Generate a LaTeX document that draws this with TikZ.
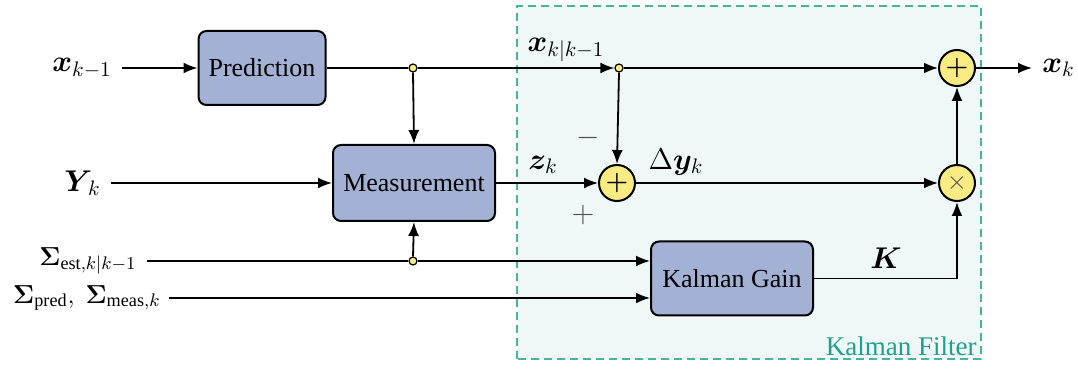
\RequirePackage{fix-cm}
\documentclass[tikz,border=0pt]{standalone}
\usepackage{amsmath,amssymb,bm}
\usepackage{fontspec}
\setmainfont{Liberation Serif}
\usepackage{tikz}
\usetikzlibrary{arrows.meta,positioning,calc}

\definecolor{blockfill}{RGB}{162,177,212}
\definecolor{sumfill}{RGB}{250,236,130}
\definecolor{kfteal}{RGB}{30,160,138}
\definecolor{kfline}{RGB}{70,180,160}
\definecolor{kfback}{RGB}{239,248,247}

\tikzset{
  block/.style={draw, line width=1pt, rounded corners=4pt, fill=blockfill, minimum height=37pt, align=center},
  sumnode/.style={draw, circle, line width=1pt, fill=sumfill, minimum size=18pt, inner sep=0pt},
  junc/.style={draw, circle, fill=sumfill, line width=0.6pt, minimum size=4pt, inner sep=0pt},
  sig/.style={-{Latex[length=7pt,width=5.5pt]}, line width=0.9pt},
  lbl/.style={inner sep=1pt},
  vec/.style={inner sep=1pt, font=\fontsize{15}{17}\selectfont},
  sgn/.style={text=black!70},
}

\begin{document}
\begin{tikzpicture}[x=0.5pt, y=0.5pt, font=\fontsize{13}{15}\selectfont]
\useasboundingbox (0,0) rectangle (1078,370);

% Kalman filter region
\draw[kfline, fill=kfback, line width=0.7pt, dash pattern=on 4pt off 2.5pt] (517,11) rectangle (981,364);
\node[kfteal, anchor=south east, inner sep=1pt, font=\fontsize{13.5}{15}\selectfont] (kftxt) at (979,12) {Kalman Filter};

% Blocks
\node[block, minimum width=63.5pt] (pred) at (262,302) {Prediction};
\node[block, minimum width=81pt, minimum height=38pt] (meas) at (414,187) {Measurement};
\node[block, minimum width=81pt] (gain) at (732,91.5) {Kalman Gain};

% Sum and product nodes
\node[sumnode] (sumout) at (957,302) {$\bm{+}$};
\node[sumnode] (sumres) at (617,187) {$\bm{+}$};
\node[sumnode] (prod) at (957,187) {\textcolor{black!70}{$\times$}};

% Junctions
\node[junc] (jpred) at (413,302) {};
\node[junc] (jstate) at (619,302) {};
\node[junc] (jcov) at (413,109) {};

% Inputs and output
\node[vec, anchor=east] (xin) at (114,302) {$\bm{x}_{k-1}$};
\node[vec, anchor=east] (yin) at (103,187) {$\bm{Y}_{\,k}$};
\node[lbl, anchor=east] (sest) at (139,109) {$\bm{\Sigma}_{\text{est},k|k-1}$};
\node[lbl, anchor=east] (spm) at (163,72) {$\bm{\Sigma}_{\text{pred}},\ \bm{\Sigma}_{\text{meas},k}$};
\node[vec, anchor=west] (xout) at (1040,302) {$\bm{x}_k$};

% Signals
\draw[sig] ($(xin.east)+(8,0)$) -- (pred.west);
\draw[sig] ($(yin.east)+(8,0)$) -- (meas.west);
\draw[line width=0.9pt] (pred.east) -- (jpred.west);
\draw[sig] (jpred.east) -- (jstate.west);
\draw[sig] (jpred.south) -- (meas.north);
\draw[sig] (jstate.east) -- (sumout.west);
\draw[sig] (jstate.south) -- (sumres.north);
\draw[sig] (meas.east) -- (sumres.west);
\draw[sig] (sumres.east) -- (prod.west);
\draw[sig] (sumout.east) -- ($(xout.west)+(-8,0)$);
\draw[sig] (prod.north) -- (sumout.south);
\draw[line width=0.9pt] ($(sest.east |- jcov)+(8,0)$) -- (jcov.west);
\draw[sig] (jcov.east) -- (jcov.east -| gain.west);
\draw[sig] (jcov.north) -- (meas.south);
\draw[sig] ($(spm.east |- 0,72)+(6,0)$) -- (gain.west |- 0,72);
\draw[sig] (gain.east) -| (prod.south);

% Signal labels
\node[vec] (lstate) at (566,320) {$\bm{x}_{k|k-1}$};
\node[vec] (lz) at (543,205) {$\bm{z}_k$};
\node[vec] (ldy) at (676,208) {$\Delta\bm{y}_k$};
\node[vec] (lk) at (886,112) {$\bm{K}$};
\node[vec, sgn] (lminus) at (588,232) {$-$};
\node[vec, sgn] (lplus) at (583,155) {$+$};
\end{tikzpicture}
\end{document}
